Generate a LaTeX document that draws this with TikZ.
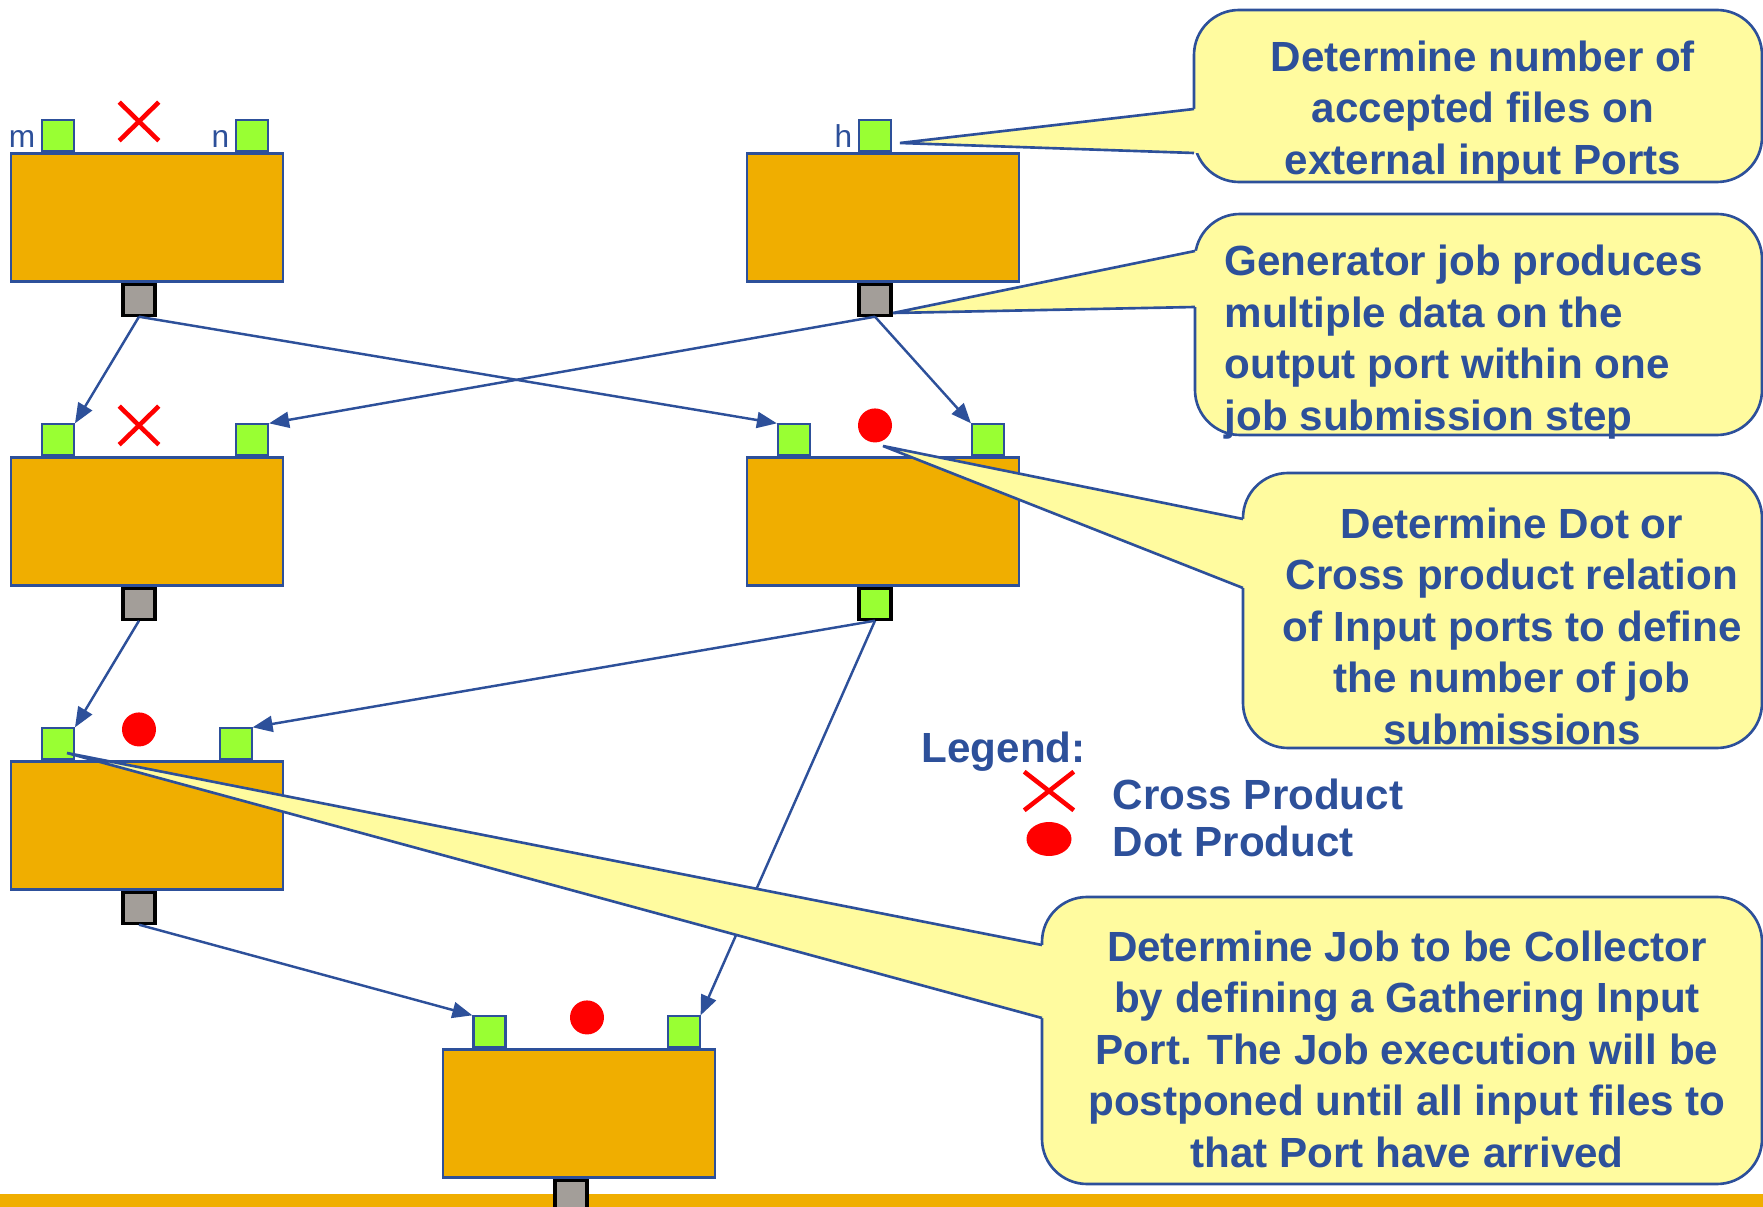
\documentclass[tikz,border=0pt]{standalone}
\usepackage{fontspec}
\setmainfont{Liberation Sans}
\usepackage{tikz}
\usetikzlibrary{arrows.meta,positioning,shapes.geometric,shapes.misc}
\definecolor{ink}{HTML}{2D509A}
\definecolor{jobfill}{HTML}{F0AE00}
\definecolor{portin}{HTML}{99FF33}
\definecolor{portout}{HTML}{A39E99}
\definecolor{notefill}{HTML}{FFFB9F}
\definecolor{markred}{HTML}{FF0000}
\tikzset{
  >={Triangle[length=2mm,width=1.6mm]},
  job/.style={draw=ink,fill=jobfill,line width=.6pt,minimum width=2.72cm,minimum height=1.28cm,inner sep=0pt},
  inport/.style={draw=ink,fill=portin,line width=.6pt,minimum width=.32cm,minimum height=.31cm,inner sep=0pt,anchor=south},
  outport/.style={draw=black,fill=portout,line width=.9pt,minimum width=.32cm,minimum height=.31cm,inner sep=0pt,anchor=north},
  portname/.style={font=\fontsize{9}{11}\selectfont,text=ink,inner sep=0pt,anchor=base east},
  crossmark/.style={cross out,draw=markred,line width=1.3pt,minimum width=.35cm,minimum height=.34cm,inner sep=0pt},
  dotmark/.style={circle,fill=markred,minimum size=.34cm,inner sep=0pt},
  flow/.style={->,line width=.7pt,color=ink},
  note/.style={draw=ink,fill=notefill,rounded corners=4.5mm,line width=.75pt,inner sep=0pt},
  notetext/.style={font=\fontsize{12}{14.65}\selectfont\bfseries,text=ink,align=center,inner sep=0pt},
  legendtext/.style={font=\fontsize{12}{14.65}\selectfont\bfseries,text=ink,inner sep=0pt,anchor=base west},
}
\newcommand{\notetail}[4]{%
  \fill[notefill] (#1) -- (#2,#3) -- (#2+0.08,#3) -- (#2+0.08,#4) -- (#2,#4) -- cycle;
  \draw[ink,line width=.75pt] (#2,#3) -- (#1) -- (#2,#4);}

\begin{document}
\begin{tikzpicture}[x=1cm,y=1cm]
  \useasboundingbox (0,0) rectangle (17.63,-12.07);
  \fill[jobfill] (0,-11.94) rectangle (17.63,-12.07);

  \node[job] (jobA) at (1.47,-2.175) {};
  \node[job] (jobB) at (8.83,-2.175) {};
  \node[job] (jobC) at (1.47,-5.215) {};
  \node[job] (jobD) at (8.83,-5.215) {};
  \node[job] (jobE) at (1.47,-8.255) {};
  \node[job] (jobF) at (5.79,-11.135) {};

  \node[inport] (Am) at ([xshift=4.8mm]jobA.north west) {};
  \node[inport] (An) at ([xshift=-3.2mm]jobA.north east) {};
  \node[inport] (Bh) at ([xshift=-.8mm]jobB.north) {};
  \node[inport] (Cl) at ([xshift=4.8mm]jobC.north west) {};
  \node[inport] (Cr) at ([xshift=-3.2mm]jobC.north east) {};
  \node[inport] (Dl) at ([xshift=4.8mm]jobD.north west) {};
  \node[inport] (Dr) at ([xshift=-3.2mm]jobD.north east) {};
  \node[inport] (El) at ([xshift=4.8mm]jobE.north west) {};
  \node[inport] (Er) at ([xshift=-4.85mm]jobE.north east) {};
  \node[inport] (Fl) at ([xshift=4.75mm]jobF.north west) {};
  \node[inport] (Fr) at ([xshift=-3.25mm]jobF.north east) {};

  \node[outport] (Aout) at ([xshift=-.8mm]jobA.south) {};
  \node[outport] (Bout) at ([xshift=-.8mm]jobB.south) {};
  \node[outport] (Cout) at ([xshift=-.8mm]jobC.south) {};
  \node[outport,fill=portin] (Dout) at ([xshift=-.8mm]jobD.south) {};
  \node[outport] (Eout) at ([xshift=-.8mm]jobE.south) {};
  \node[outport] (Fout) at ([xshift=-.8mm]jobF.south) {};

  \node[portname] (labm) at ([xshift=-.5mm,yshift=.5mm]Am.south west) {m};
  \node[portname] (labn) at ([xshift=-.5mm,yshift=.5mm]An.south west) {n};
  \node[portname] (labh) at ([xshift=-.5mm,yshift=.5mm]Bh.south west) {h};

  \node[crossmark] (opA) at ([xshift=-.8mm,yshift=3.1mm]jobA.north) {};
  \node[crossmark] (opC) at ([xshift=-.8mm,yshift=3.1mm]jobC.north) {};
  \node[dotmark] (opD) at ([xshift=-.8mm,yshift=3.1mm]jobD.north) {};
  \node[dotmark] (opE) at ([xshift=-.8mm,yshift=3.1mm]jobE.north) {};
  \node[dotmark] (opF) at ([xshift=.8mm,yshift=3.1mm]jobF.north) {};

  \draw[flow] (Aout.south) -- (Cl.north east);
  \draw[flow] (Aout.south) -- (Dl.north west);
  \draw[flow] (Bout.south) -- (Cr.north east);
  \draw[flow] (Bout.south) -- (Dr.north west);
  \draw[flow] (Cout.south) -- (El.north east);
  \draw[flow] (Dout.south) -- (Er.north east);
  \draw[flow] (Dout.south) -- (Fr.north east);
  \draw[flow] (Eout.south) -- (Fl.north west);

  \coordinate (tip1) at (9.00,-1.43);
  \coordinate (tip2) at (8.93,-3.13);
  \coordinate (tip3) at (8.83,-4.46);
  \coordinate (tip4) at (0.67,-7.53);

  \node[note,minimum width=5.68cm,minimum height=1.72cm] (note1) at (14.78,-0.96) {};
  \notetail{tip1}{11.94}{-1.09}{-1.53}
  \node[notetext] (text1) at (14.83,-1.12) {Determine number of\\accepted files on\\external input Ports};

  \node[note,minimum width=5.67cm,minimum height=2.21cm] (note2) at (14.785,-3.245) {};
  \notetail{tip2}{11.95}{-2.51}{-3.07}
  \node[notetext,align=left,anchor=west] (text2) at (12.24,-3.42) {Generator job produces\\multiple data on the\\output port within one\\job submission step};

  \node[note,minimum width=5.19cm,minimum height=2.75cm] (note3) at (15.025,-6.105) {};
  \notetail{tip3}{12.43}{-5.19}{-5.88}
  \node[notetext] (text3) at (15.12,-6.26) {Determine Dot or\\Cross product relation\\of Input ports to define\\the number of job\\submissions};

  \node[note,minimum width=7.20cm,minimum height=2.87cm] (note4) at (14.02,-10.405) {};
  \notetail{tip4}{10.42}{-9.45}{-10.18}
  \node[notetext] (text4) at (14.07,-10.49) {Determine Job to be Collector\\by defining a Gathering Input\\Port. The Job execution will be\\postponed until all input files to\\that Port have arrived};

  \node[legendtext] (legend) at (9.21,-7.62) {Legend:};
  \node[crossmark,minimum width=.45cm] (keycross) at (10.49,-7.91) {};
  \node[ellipse,fill=markred,minimum width=.45cm,minimum height=.34cm,inner sep=0pt] (keydot) at (10.49,-8.39) {};
  \node[legendtext] (crosstext) at (11.12,-8.10) {Cross Product};
  \node[legendtext] (dottext) at (11.12,-8.57) {Dot Product};
\end{tikzpicture}
\end{document}
